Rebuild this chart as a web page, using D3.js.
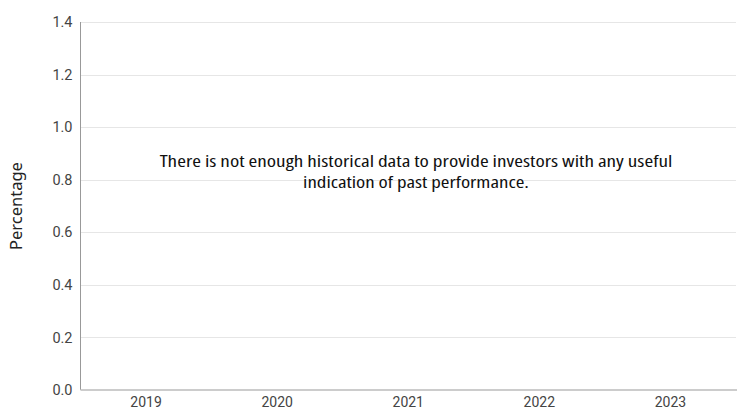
<!DOCTYPE html>
<html><head><meta charset="utf-8">
<script src="https://cdn.jsdelivr.net/npm/d3@7"></script>
<style>body{margin:0;background:#fff}svg{display:block}</style>
</head><body>
<svg id="c" width="737" height="410"></svg>
<script>
const categories = ["2019","2020","2021","2022","2023"];
const yTicks = [0,0.2,0.4,0.6,0.8,1.0,1.2,1.4];
const seriesValues = [];
const message = ["There is not enough historical data to provide investors with any useful","indication of past performance."];
const yLabel = "Percentage";

const svg = d3.select("#c");
const m = {left:80.5, right:1, top:22, bottom:20};
const W = 737, H = 410;
const x = d3.scaleBand().domain(categories).range([m.left, W - m.right]);
const y = d3.scaleLinear().domain([0,1.4]).range([390, m.top]);

// gridlines
svg.append("g").selectAll("line").data(yTicks.filter(d=>d>0)).join("line")
  .attr("x1", m.left).attr("x2", W - m.right)
  .attr("y1", d=>Math.round(y(d))+0.5).attr("y2", d=>Math.round(y(d))+0.5)
  .attr("stroke","#e6e6e6").attr("stroke-width",1);

// y axis
const ya = svg.append("g").attr("transform",`translate(${m.left},0)`)
  .call(d3.axisLeft(y).tickValues(yTicks).tickFormat(d3.format(".1f")).tickSize(0).tickPadding(8));
ya.select(".domain").attr("stroke","#999").attr("d",`M0,${m.top}V390`);
ya.selectAll("text").attr("font-family","Roboto").attr("font-size",14.5).attr("fill","#444");

// x axis
const xa = svg.append("g").attr("transform","translate(0,390)")
  .call(d3.axisBottom(x).tickSize(0).tickPadding(7));
xa.select(".domain").attr("stroke","#ccc").attr("stroke-width",2).attr("d",`M${m.left},0H${W}`);
xa.selectAll("text").attr("font-family","Roboto").attr("font-size",14).attr("fill","#444");

// y label
svg.append("text").attr("transform","translate(22,206) rotate(-90)")
  .attr("text-anchor","middle").attr("font-family","Noto Sans").attr("font-size",16.5).attr("fill","#222")
  .text(yLabel);

// message
const msg = svg.append("g");
const targets = [513, 226];
message.forEach((t,i)=>{
  const tx = msg.append("text").attr("x",416).attr("y",167 + i*21)
    .attr("text-anchor","middle").attr("font-family","Open Sans").attr("font-size",17)
    .style("font-stretch","condensed").attr("fill","#111").text(t);
  const w = tx.node().getComputedTextLength();
  const s = targets[i]/w;
  tx.attr("transform",`translate(416,0) scale(${s},1) translate(-416,0)`);
});
</script>
</body></html>
